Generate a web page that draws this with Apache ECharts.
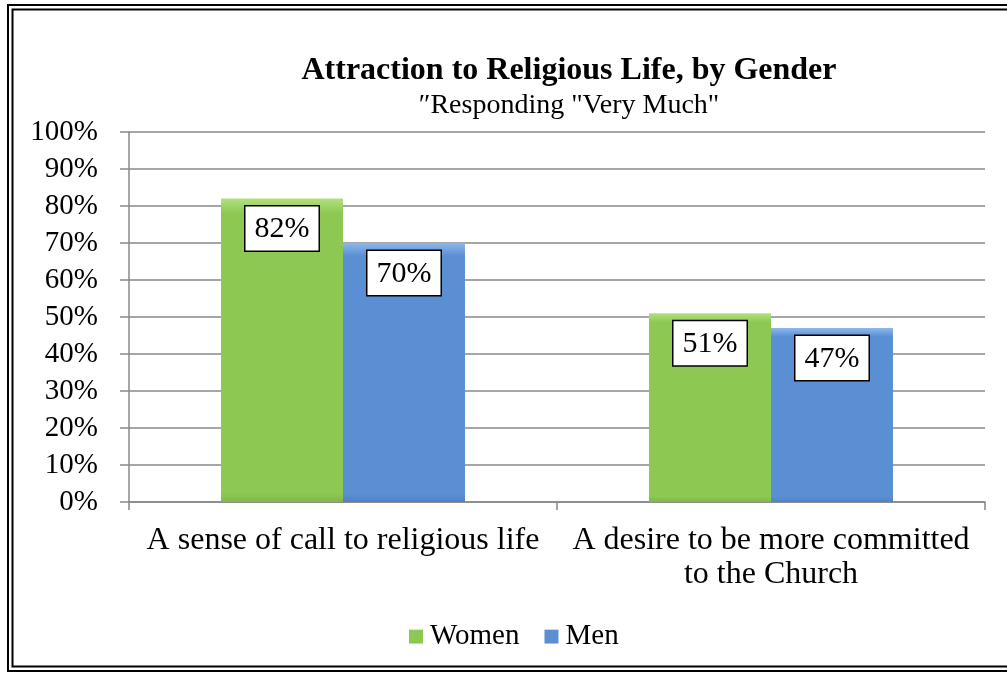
<!DOCTYPE html>
<html>
<head>
<meta charset="utf-8">
<script src="https://cdn.jsdelivr.net/npm/echarts@6/dist/echarts.min.js"></script>
<style>
  html, body { margin: 0; padding: 0; background: #fff; }
  #chart { width: 1007px; height: 675px; }
</style>
</head>
<body>
<div id="chart"></div>
<script>
const categories = ['A sense of call to religious life', 'A desire to be more committed\nto the Church'];
const women = [82, 51];
const men = [70, 47];
const yTicks = [0, 10, 20, 30, 40, 50, 60, 70, 80, 90, 100];

const serif = '"Liberation Serif", "DejaVu Serif", serif';

const bevel = (top, main, side) => new echarts.graphic.LinearGradient(0, 0, 0, 1, [
    { offset: 0, color: top },
    { offset: 0.05, color: main },
    { offset: 0.97, color: main },
    { offset: 1, color: side }
]);

const greenFill = bevel('#b2df7e', '#8dc853', '#7fb84a');
const blueFill = bevel('#8cb8ec', '#5a8fd4', '#4f80c2');

const labelStyle = {
    show: true,
    position: 'insideTop',
    distance: 8,
    formatter: p => p.value + '%',
    fontFamily: serif,
    fontSize: 30,
    color: '#000',
    backgroundColor: '#fff',
    borderColor: '#000',
    borderWidth: 1.5,
    padding: [8, 9, 6, 9]
};

const chart = echarts.init(document.getElementById('chart'));

chart.setOption({
    animation: false,
    textStyle: { fontFamily: serif },
    title: {
        text: 'Attraction to Religious Life, by Gender',
        subtext: '\u2033Responding "Very Much"',
        left: 564,
        textAlign: 'center',
        top: 50,
        itemGap: 5,
        textStyle: { fontFamily: serif, fontSize: 32, fontWeight: 'bold', color: '#000' },
        subtextStyle: { fontFamily: serif, fontSize: 28, color: '#000' }
    },
    legend: {
        bottom: 19,
        left: 404,
        itemWidth: 14,
        itemHeight: 14,
        itemGap: 25,
        icon: 'rect',
        textStyle: { fontFamily: serif, fontSize: 29, color: '#000', padding: [0, 0, 0, 2] },
        data: ['Women', 'Men']
    },
    grid: { left: 129, right: 22, top: 132, bottom: 173 },
    xAxis: {
        type: 'category',
        data: categories,
        axisLine: { lineStyle: { color: '#888', width: 1.5 } },
        axisTick: { show: true, length: 8, lineStyle: { color: '#888', width: 1.5 } },
        axisLabel: { fontFamily: serif, fontSize: 32, color: '#000', margin: 22, lineHeight: 34, interval: 0 }
    },
    yAxis: {
        type: 'value',
        min: yTicks[0],
        max: yTicks[yTicks.length - 1],
        interval: 10,
        axisLine: { show: true, lineStyle: { color: '#888', width: 1.5 } },
        axisTick: { show: true, length: 9, lineStyle: { color: '#888', width: 1.5 } },
        splitLine: { lineStyle: { color: '#888', width: 1.5 } },
        axisLabel: { fontFamily: serif, fontSize: 29, color: '#000', margin: 31, formatter: '{value}%' }
    },
    series: [
        {
            name: 'Women',
            type: 'bar',
            data: women,
            barGap: '0%',
            barCategoryGap: '43%',
            itemStyle: { color: greenFill },
            label: labelStyle
        },
        {
            name: 'Men',
            type: 'bar',
            data: men,
            itemStyle: { color: blueFill },
            label: labelStyle
        }
    ],
    graphic: [
        {
            type: 'rect',
            shape: { x: 8, y: 5, width: 1040, height: 666 },
            style: { fill: 'none', stroke: '#000', lineWidth: 2 },
            silent: true
        },
        {
            type: 'rect',
            shape: { x: 12.5, y: 9.5, width: 1030, height: 657 },
            style: { fill: 'none', stroke: '#000', lineWidth: 2 },
            silent: true
        }
    ]
});
</script>
</body>
</html>
